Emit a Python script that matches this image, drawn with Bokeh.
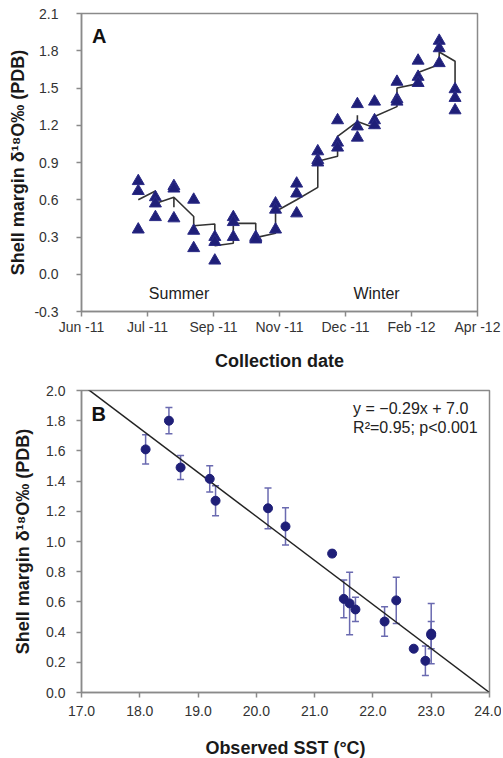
import datetime as dt
import numpy as np
from bokeh.plotting import figure
from bokeh.layouts import column
from bokeh.models import (ColumnDataSource, Range1d, FixedTicker, DatetimeTickFormatter,
                          NumeralTickFormatter, Label, Whisker, TeeHead)
from bokeh.embed import file_html
from bokeh.resources import INLINE

# ---------------- Panel A data ----------------
SAMPLE_DATES = ["2011-07-19", "2011-08-01", "2011-08-15", "2011-08-30", "2011-09-15",
                "2011-09-29", "2011-10-16", "2011-10-31", "2011-11-16", "2011-12-02",
                "2011-12-17", "2012-01-01", "2012-01-14", "2012-01-31", "2012-02-16",
                "2012-03-03", "2012-03-15"]
SAMPLE_VALUES = [[0.75, 0.67, 0.36], [0.62, 0.57, 0.46], [0.71, 0.69, 0.45],
                 [0.60, 0.35, 0.21], [0.30, 0.26, 0.11], [0.46, 0.42, 0.30],
                 [0.30, 0.29, 0.28], [0.57, 0.52, 0.36], [0.73, 0.65, 0.49],
                 [0.99, 0.92, 0.90], [1.24, 1.06, 1.02], [1.37, 1.19, 1.10],
                 [1.39, 1.24, 1.20], [1.55, 1.41, 1.39], [1.72, 1.59, 1.54],
                 [1.88, 1.82, 1.70], [1.49, 1.42, 1.32]]
# predicted-value line (vertices per sampling date)
LINE_VALUES = [[0.60], [0.67, 0.57], [0.62, 0.54, 0.62], [0.465, 0.39], [0.405, 0.23],
               [0.25, 0.41], [0.41, 0.295], [0.33, 0.505], [0.60], [0.70, 0.91],
               [0.95, 1.11], [1.23, 1.28, 1.23], [1.18, 1.27], [1.35, 1.50],
               [1.535, 1.625], [1.69, 1.79], [1.715, 1.495]]
X_START = "2011-06-06"
X_END = "2012-04-01"
X_TICK_STEP_DAYS = 50
Y_A_TICKS = [-0.3, 0.0, 0.3, 0.6, 0.9, 1.2, 1.5, 1.8, 2.1]

# ---------------- Panel B data ----------------
SST = [18.1, 18.5, 18.7, 19.2, 19.3, 20.2, 20.5, 21.3, 21.5, 21.6, 21.7,
       22.2, 22.4, 22.7, 22.9, 23.0, 23.0]
D18O = [1.61, 1.80, 1.49, 1.415, 1.27, 1.22, 1.10, 0.92, 0.62, 0.59, 0.55,
        0.47, 0.61, 0.29, 0.21, 0.39, 0.38]
ERR = [0.097, 0.087, 0.08, 0.087, 0.10, 0.135, 0.123, 0.02, 0.125, 0.207, 0.08,
       0.098, 0.153, 0.0, 0.098, 0.2, 0.09]
SLOPE = -0.2915
INTERCEPT = 6.996
X_B_TICKS = [17.0, 18.0, 19.0, 20.0, 21.0, 22.0, 23.0, 24.0]
Y_B_TICKS = [0.0, 0.2, 0.4, 0.6, 0.8, 1.0, 1.2, 1.4, 1.6, 1.8, 2.0]


def ms(s):
    return dt.datetime.strptime(s, "%Y-%m-%d").replace(tzinfo=dt.timezone.utc).timestamp() * 1000.0


DAY_MS = 86400000.0
FONT = "Liberation Sans"
GRAY = "#8a8a8a"
NAVY = "#1f1f78"


def style(p):
    p.background_fill_color = "white"
    p.border_fill_color = "white"
    p.outline_line_color = GRAY
    p.outline_line_width = 1.5
    p.xgrid.grid_line_color = None
    p.ygrid.grid_line_color = None
    for ax in (p.xaxis[0], p.yaxis[0]):
        ax.axis_line_color = GRAY
        ax.axis_line_width = 1.5
        ax.major_tick_line_color = GRAY
        ax.major_tick_line_width = 1.5
        ax.major_tick_out = 5
        ax.major_tick_in = 0
        ax.minor_tick_out = 0
        ax.minor_tick_in = 0
        ax.major_label_text_font = FONT
        ax.major_label_text_font_size = "14px"
        ax.major_label_text_color = "#333333"
        ax.axis_label_text_font = FONT
        ax.axis_label_text_font_size = "18px"
        ax.axis_label_text_font_style = "bold"
        ax.axis_label_text_color = "#1a1a1a"


# ---------------- Panel A ----------------
p1 = figure(frame_width=396, frame_height=298, x_axis_type="datetime",
            x_range=Range1d(ms(X_START), ms(X_END)), y_range=Range1d(-0.3, 2.1),
            output_backend="svg", toolbar_location=None,
            min_border_left=81, min_border_right=26, min_border_top=13, min_border_bottom=67)
style(p1)

sx, sy = [], []
for d, vals in zip(SAMPLE_DATES, SAMPLE_VALUES):
    for v in vals:
        sx.append(ms(d))
        sy.append(v)
lx, ly = [], []
for d, vals in zip(SAMPLE_DATES, LINE_VALUES):
    for v in vals:
        lx.append(ms(d))
        ly.append(v)

p1.line(lx, ly, line_color="#333333", line_width=1.6)
p1.scatter(sx, sy, marker="triangle", size=12, fill_color=NAVY, line_color="#2a2a85", line_width=1)

start = ms(X_START)
p1.xaxis.ticker = FixedTicker(ticks=[start + k * X_TICK_STEP_DAYS * DAY_MS for k in range(7)])
p1.xaxis.formatter = DatetimeTickFormatter(days="%b -%y", months="%b -%y", years="%b -%y")
p1.yaxis.ticker = FixedTicker(ticks=Y_A_TICKS)
p1.yaxis.formatter = NumeralTickFormatter(format="0.0")
p1.xaxis.axis_label = "Collection date"
p1.yaxis.axis_label = "Shell margin δ¹⁸O‰ (PDB)"
p1.yaxis.major_label_standoff = 18
p1.yaxis.axis_label_standoff = 3
p1.xaxis.major_label_standoff = 2
p1.xaxis.axis_label_standoff = 13

p1.add_layout(Label(x=ms("2011-06-14"), y=2.01, text="A", text_font=FONT, text_font_size="20px",
                    text_font_style="bold", text_baseline="top", text_color="#111111"))
p1.add_layout(Label(x=ms("2011-07-27"), y=-0.155, text="Summer", text_font=FONT, text_font_size="16px",
                    text_baseline="middle", text_color="#222222"))
p1.add_layout(Label(x=ms("2011-12-29"), y=-0.155, text="Winter", text_font=FONT, text_font_size="16px",
                    text_baseline="middle", text_color="#222222"))

# ---------------- Panel B ----------------
p2 = figure(frame_width=408, frame_height=302, x_range=Range1d(17, 24), y_range=Range1d(0, 2),
            output_backend="svg", toolbar_location=None,
            min_border_left=79, min_border_right=14, min_border_top=12, min_border_bottom=64)
style(p2)

sst = np.array(SST)
d18 = np.array(D18O)
err = np.array(ERR)
src = ColumnDataSource(dict(sst=sst, d18o=d18, upper=d18 + err, lower=d18 - err))

xs = np.array([17.0, 24.0])
p2.line(xs, SLOPE * xs + INTERCEPT, line_color="#222222", line_width=1.5)

EB = "#6a6ab0"
wh = Whisker(source=src, base="sst", upper="upper", lower="lower", dimension="height",
             line_color=EB, line_width=1.5,
             upper_head=TeeHead(size=7, line_color=EB, line_width=1.5),
             lower_head=TeeHead(size=7, line_color=EB, line_width=1.5))
p2.add_layout(wh)
p2.scatter("sst", "d18o", source=src, size=9, fill_color=NAVY, line_color=NAVY)

p2.xaxis.ticker = FixedTicker(ticks=X_B_TICKS)
p2.xaxis.formatter = NumeralTickFormatter(format="0.0")
p2.yaxis.ticker = FixedTicker(ticks=Y_B_TICKS)
p2.yaxis.formatter = NumeralTickFormatter(format="0.0")
p2.xaxis.axis_label = "Observed SST (°C)"
p2.yaxis.axis_label = "Shell margin δ¹⁸O‰ (PDB)"
p2.yaxis.major_label_standoff = 11
p2.yaxis.axis_label_standoff = 10
p2.xaxis.major_label_standoff = 8
p2.xaxis.axis_label_standoff = 19

p2.add_layout(Label(x=17.17, y=1.915, text="B", text_font=FONT, text_font_size="20px",
                    text_font_style="bold", text_baseline="top", text_color="#111111"))
p2.add_layout(Label(x=21.66, y=1.935, text="y = −0.29x + 7.0", text_font=FONT, text_font_size="16px",
                    text_baseline="top", text_color="#222222"))
p2.add_layout(Label(x=21.66, y=1.81, text="R²=0.95; p<0.001", text_font=FONT, text_font_size="16px",
                    text_baseline="top", text_color="#222222"))

layout = column(p1, p2)
open("out.html", "w").write(file_html(layout, INLINE))
